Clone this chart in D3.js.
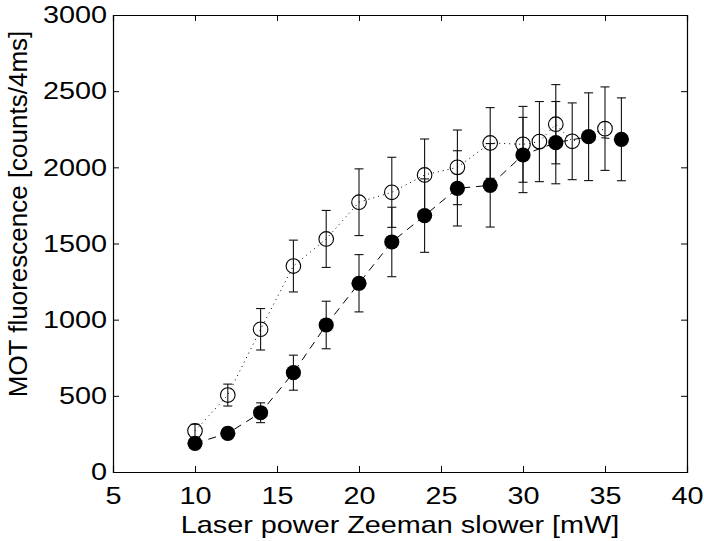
<!DOCTYPE html>
<html>
<head>
<meta charset="utf-8">
<script src="https://cdn.jsdelivr.net/npm/d3@7"></script>
<style>
  body { margin: 0; background: #fff; }
  text { font-family: "Liberation Sans", Arial, sans-serif; fill: #000; }
</style>
</head>
<body>
<div id="chart"></div>
<script>
// filled circles (dashed line)
var xFilled = [10, 12, 14, 16, 18, 20, 22, 24, 26, 28, 30, 32, 34, 36];
var yFilled = [188, 254, 389, 652, 965, 1239, 1510, 1683, 1862, 1882, 2081, 2162, 2201, 2184];
var eFilled = [30, 35, 65, 115, 156, 188, 228, 241, 247, 274, 247, 270, 288, 272];

// open circles (dotted line)
var xOpen = [10, 12, 14, 16, 18, 20, 22, 24, 26, 28, 30, 31, 32, 33, 35];
var yOpen = [270, 505, 937, 1352, 1530, 1771, 1836, 1950, 2000, 2160, 2151, 2169, 2283, 2171, 2254];
var eOpen = [43, 72, 136, 170, 187, 219, 230, 236, 245, 232, 249, 263, 260, 252, 274];

var xTicks = [5, 10, 15, 20, 25, 30, 35, 40];
var yTicks = [0, 500, 1000, 1500, 2000, 2500, 3000];

var margin = {top: 15, right: 17, bottom: 69, left: 113},
    width = 704 - margin.left - margin.right,
    height = 541 - margin.top - margin.bottom;

// the text in the original is drawn a bit wide
var stretch = 1.2;

var svg = d3.select("#chart")
    .append("svg")
        .attr("width", 704)
        .attr("height", 541)
    .append("g")
        .attr("transform", "translate(" + margin.left + "," + margin.top + ")");

var x = d3.scaleLinear().domain([5, 40]).range([0, width]);
var y = d3.scaleLinear().domain([0, 3000]).range([height, 0]);

function pts(xs, ys, es) {
    return xs.map(function(d, i) { return {x: d, y: ys[i], e: es[i]}; });
}
var filled = pts(xFilled, yFilled, eFilled);
var open = pts(xOpen, yOpen, eOpen);

// axes, ticks pointing inward on all four sides
var tl = -6;
var fmt = d3.format("d");
svg.append("g")
    .attr("transform", "translate(0," + height + ")")
    .call(d3.axisBottom(x).tickValues(xTicks).tickSize(tl).tickPadding(15).tickFormat(fmt));
svg.append("g")
    .call(d3.axisTop(x).tickValues(xTicks).tickSize(tl).tickFormat(""));
svg.append("g")
    .call(d3.axisLeft(y).tickValues(yTicks).tickSize(tl).tickPadding(5).tickFormat(fmt));
svg.append("g")
    .attr("transform", "translate(" + width + ",0)")
    .call(d3.axisRight(y).tickValues(yTicks).tickSize(tl).tickFormat(""));

svg.selectAll(".domain").attr("stroke", "#000").attr("stroke-width", 1.2);
svg.selectAll(".tick line").attr("stroke", "#000");
svg.selectAll(".tick text")
    .style("font-size", "24px")
    .attr("transform", "scale(" + stretch + ",1)");

// error bars
function errorBars(data) {
    var g = svg.append("g").attr("stroke", "#111").attr("stroke-width", 1.1);
    data.forEach(function(d) {
        var cx = x(d.x);
        g.append("line").attr("x1", cx).attr("x2", cx)
            .attr("y1", y(d.y - d.e)).attr("y2", y(d.y + d.e));
        [d.y - d.e, d.y + d.e].forEach(function(v) {
            g.append("line").attr("x1", cx - 4.5).attr("x2", cx + 4.5)
                .attr("y1", y(v)).attr("y2", y(v));
        });
    });
}
errorBars(open);
errorBars(filled);

var line = d3.line()
    .x(function(d) { return x(d.x); })
    .y(function(d) { return y(d.y); });

svg.append("path")
    .datum(open)
    .attr("fill", "none")
    .attr("stroke", "#000")
    .attr("stroke-width", 1)
    .attr("stroke-dasharray", "1,4")
    .attr("d", line);

svg.append("path")
    .datum(filled)
    .attr("fill", "none")
    .attr("stroke", "#000")
    .attr("stroke-width", 1)
    .attr("stroke-dasharray", "8,6")
    .attr("d", line);

svg.append("g")
    .selectAll("circle")
    .data(open)
    .enter()
    .append("circle")
        .attr("cx", function(d) { return x(d.x); })
        .attr("cy", function(d) { return y(d.y); })
        .attr("r", 7.3)
        .attr("fill", "none")
        .attr("stroke", "#000")
        .attr("stroke-width", 1.1);

svg.append("g")
    .selectAll("circle")
    .data(filled)
    .enter()
    .append("circle")
        .attr("cx", function(d) { return x(d.x); })
        .attr("cy", function(d) { return y(d.y); })
        .attr("r", 7.6)
        .attr("fill", "#000");

// axis labels
svg.append("text")
    .attr("transform", "translate(" + (width / 2) + "," + (533 - margin.top) + ") scale(" + stretch + ",1)")
    .attr("text-anchor", "middle")
    .style("font-size", "24px")
    .text("Laser power Zeeman slower [mW]");

svg.append("text")
    .attr("transform", "translate(" + (27 - margin.left) + "," + (214 - margin.top) + ") rotate(-90)")
    .attr("text-anchor", "middle")
    .style("font-size", "26px")
    .text("MOT fluorescence [counts/4ms]");
</script>
</body>
</html>
